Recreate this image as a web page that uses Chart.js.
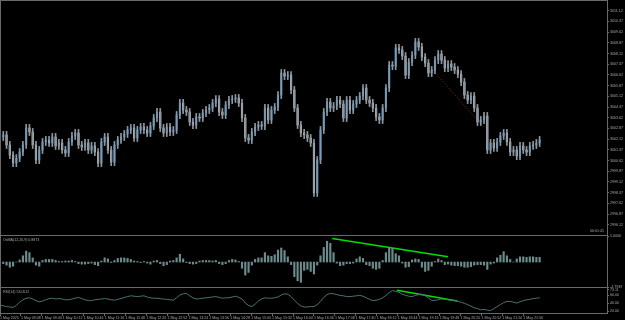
<!DOCTYPE html>
<html>
<head>
<meta charset="utf-8">
<script src="https://cdn.jsdelivr.net/npm/chart.js@4.4.0/dist/chart.umd.min.js"></script>
<style>
    html, body { margin: 0; padding: 0; background: #000; }
    #wrap { position: relative; width: 625px; height: 320px; }
    #wrap canvas { position: absolute; left: 0; top: 0; }
</style>
</head>
<body>
<div id="wrap">
    <canvas id="priceChart" width="625" height="320"></canvas>
    <canvas id="osmaChart" width="625" height="320"></canvas>
    <canvas id="rsiChart" width="625" height="320"></canvas>
</div>
<script>
// M5 bars, minutes counted from 1 May 08:36
const barStep = 5;
const closes = [
    3002.27, 3002.41, 3001.71, 3001.00, 3000.44, 3000.79, 3001.21, 3001.71, 3002.90, 3002.62,
    3001.71, 3000.65, 3001.36, 3001.92, 3002.06, 3001.85, 3002.27, 3001.64, 3001.85, 3001.36,
    3001.15, 3001.92, 3002.34, 3002.55, 3001.71, 3001.57, 3001.85, 3001.36, 3001.64, 3001.21,
    3000.44, 3001.92, 3002.27, 3001.36, 3000.51, 3001.71, 3002.06, 3002.27, 3002.48, 3002.76,
    3002.90, 3002.20, 3002.76, 3002.97, 3002.76, 3002.55, 3003.04, 3003.60, 3004.02, 3002.90,
    3002.55, 3002.97, 3002.62, 3002.76, 3003.81, 3004.65, 3004.16, 3004.02, 3003.32, 3003.11,
    3003.67, 3003.60, 3003.95, 3004.16, 3004.30, 3004.65, 3004.93, 3004.02, 3003.81, 3004.51,
    3004.86, 3004.93, 3005.00, 3004.65, 3003.60, 3002.20, 3002.06, 3002.62, 3002.97, 3003.11,
    3003.04, 3004.30, 3003.46, 3004.16, 3004.37, 3005.21, 3006.75, 3006.54, 3006.61, 3005.56,
    3004.30, 3003.11, 3002.55, 3002.41, 3002.20, 3001.85, 2998.35, 3000.65, 3002.76, 3004.02,
    3004.72, 3004.30, 3004.44, 3004.86, 3004.58, 3003.60, 3004.86, 3004.16, 3004.58, 3004.86,
    3005.14, 3005.70, 3004.86, 3004.65, 3004.30, 3003.67, 3003.46, 3004.30, 3005.70, 3007.31,
    3007.24, 3008.51, 3008.37, 3007.94, 3006.61, 3007.52, 3008.01, 3008.93, 3008.58, 3007.87,
    3007.45, 3006.75, 3006.96, 3007.66, 3008.08, 3007.66, 3007.10, 3007.38, 3007.17, 3006.96,
    3006.68, 3006.12, 3005.21, 3004.86, 3005.14, 3004.30, 3003.32, 3003.46, 3003.74, 3001.36,
    3001.85, 3001.50, 3001.92, 3002.34, 3002.55, 3001.92, 3001.21, 3001.36, 3000.93, 3001.64,
    3001.36, 3001.21, 3001.64, 3001.71, 3001.85, 3002.06
];
const osma = [
    -0.3, -0.3, -0.6, -1.0, -0.8, 0, 0.4, 1.2, 2.1, 1.8,
    0.8, -0.6, -0.8, 0.3, 0.5, 0.5, 0.5, 0.3, 0.1, 0.1,
    0.2, 0.2, 0.3, 0.1, -0.3, -0.4, -0.4, -0.3, -0.2, -0.5,
    -0.7, 0.2, 0.8, 0.6, -0.1, 0.3, 0.7, 0.8, 0.8, 0.7,
    0.5, 0.2, 0.1, -0.1, 0.1, -0.2, -0.4, 0.2, 0.3, -0.3,
    -0.7, -0.5, 0.2, 0.3, 0.8, 1.5, 0.6, -0.1, -0.3, -0.4,
    -0.3, 0.2, 0.3, 0.3, 0.3, 0.2, 0.3, -0.3, -0.5, -0.3,
    0.3, 0.5, 0.4, 0.1, -1.2, -2.5, -2.0, -0.6, 0.5, 0.8,
    0.8, 1.8, 1.2, 1.1, 1.4, 2.3, 2.7, 2.2, 1.0, -0.5,
    -2.8, -3.6, -3.9, -1.6, -1.4, -1.8, -2.3, -0.6, 1.2, 2.8,
    4.0, 3.6, 1.8, -0.2, -0.7, -0.6, -0.3, -0.3, -0.2, 0.6,
    1.0, 0.7, -0.5, -0.7, -1.2, -1.4, -1.2, 0.3, 1.8, 2.8,
    2.6, 1.6, 1.2, -0.2, -1.0, -0.9, 0.4, 0.6, 0.5, -1.0,
    -1.8, -1.6, -0.8, 0.1, 0.6, 0.3, -0.5, -0.4, -0.6, -0.7,
    -0.7, -0.8, -1.0, -1.0, -0.9, -0.6, -0.5, -0.5, -0.6, -1.4,
    -0.4, -0.2, 0.8, 1.3, 2.0, 1.2, 0.5, 0.0, 0.6, 1.0,
    1.0, 0.9, 1.0, 1.0, 0.9, 0.9
];
const rsi = [
    35, 33, 31, 30, 29, 34, 42, 48, 52, 53,
    50, 46, 43, 45, 48, 51, 52, 50, 51, 50,
    48, 48, 50, 52, 54, 51, 48, 46, 46, 48,
    49, 50, 51, 50, 48, 47, 49, 51, 54, 56,
    58, 57, 56, 57, 58, 55, 53, 52, 52, 51,
    50, 49, 48, 47, 53, 60, 63, 64, 58, 53,
    50, 51, 52, 53, 54, 55, 56, 54, 52, 53,
    53, 55, 57, 54, 50, 40, 34, 31, 37, 45,
    50, 53, 52, 52, 53, 55, 60, 63, 62, 56,
    47, 39, 33, 30, 30, 31, 31, 36, 44, 54,
    61, 64, 63, 61, 59, 58, 56, 56, 57, 58,
    59, 57, 53, 49, 46, 47, 49, 53, 59, 66,
    71, 69, 67, 62, 59, 57, 56, 59, 61, 62,
    58, 53, 46, 47, 48, 50, 49, 48, 47, 46,
    44, 42, 39, 36, 32, 28, 26, 23, 24, 22,
    21, 26, 31, 36, 41, 44, 44, 42, 40, 43,
    46, 48, 49, 51, 52, 53
];
const priceTicks = [
    3011.12, 3010.37, 3009.62, 3008.87, 3008.12, 3007.37, 3006.62, 3005.87, 3005.12, 3004.37,
    3003.62, 3002.87, 3002.12, 3001.37, 3000.62, 2999.87, 2999.12, 2998.37, 2997.62, 2996.87, 2996.12
];
const timeStep = 32;
const timeLabels = [
    '1 May 2025', '1 May 09:08', '1 May 09:40', '1 May 10:12', '1 May 10:44', '1 May 11:16',
    '1 May 11:48', '1 May 12:20', '1 May 12:52', '1 May 13:24', '1 May 13:56', '1 May 14:28',
    '1 May 15:00', '1 May 15:32', '1 May 16:04', '1 May 16:36', '1 May 17:08', '1 May 17:40',
    '1 May 18:12', '1 May 18:44', '1 May 19:16', '1 May 19:48', '1 May 20:20', '1 May 20:52',
    '1 May 21:24', '1 May 21:56'
];
const osmaTicks = [5.0006, -4.7939];
const rsiTicks = [73.11, 60, 40, 20];
// hand drawn trend lines [minute, value]
const priceTrend = [[662, 3006.96], [739, 3002.97]];
const osmaTrend = [[508, 4.5], [685, 1.0]];
const rsiTrend = [[607, 72], [699, 45]];

const xMax = 928;
const wickPad = 0.25;
const font = { family: 'Liberation Sans', size: 3.6 };
const textColor = '#a8a8a8';
const lineGray = '#6a6a6a';

const opens = closes.map((c, i) => i === 0 ? c : closes[i - 1]);
const bodies = closes.map((c, i) => ({ x: i * barStep, y: [opens[i], c] }));
const wicks = closes.map((c, i) => ({
    x: i * barStep,
    y: [Math.min(opens[i], c) - wickPad, Math.max(opens[i], c) + wickPad]
}));
const bodyColors = closes.map((c, i) => c >= opens[i] ? '#2a8fe0' : '#d0d6dc');

const panelFrame = {
    id: 'panelFrame',
    afterDraw(chart, args, opts) {
        const { ctx, chartArea: a } = chart;
        ctx.save();
        ctx.strokeStyle = lineGray;
        ctx.lineWidth = 1;
        ctx.strokeRect(a.left + 0.5, a.top - 0.5, a.right - a.left, a.bottom - a.top + 1);
        ctx.fillStyle = textColor;
        ctx.font = font.size + 'px "' + font.family + '"';
        if (opts.title) {
            ctx.textBaseline = 'top';
            ctx.fillText(opts.title, a.left + 3, a.top + 2);
        }
        if (opts.corner) {
            ctx.textAlign = 'right';
            ctx.textBaseline = 'bottom';
            ctx.fillText(opts.corner, a.right - 3, a.bottom - 2);
        }
        ctx.restore();
    }
};

function rightAxis(min, max, ticks, fmt) {
    return {
        position: 'right',
        min: min,
        max: max,
        grid: { display: true, drawOnChartArea: false, drawTicks: true, tickLength: 2, color: lineGray },
        border: { display: true, color: '#888' },
        ticks: { color: textColor, font: font, padding: 1, autoSkip: false, callback: fmt },
        afterBuildTicks: s => { s.ticks = ticks.map(v => ({ value: v })); },
        afterFit: s => { s.width = 18; s.paddingTop = 0; s.paddingBottom = 0; }
    };
}

const hiddenX = { type: 'linear', min: 0, max: xMax, offset: false, display: false };

function trendSet(points, color, width, dash) {
    return {
        type: 'line',
        data: points.map(p => ({ x: p[0], y: p[1] })),
        borderColor: color,
        borderWidth: width,
        borderDash: dash,
        pointRadius: 0
    };
}

const common = {
    responsive: false,
    animation: false,
    events: [],
    plugins: { legend: { display: false }, tooltip: { enabled: false } }
};

new Chart(document.getElementById('priceChart'), {
    type: 'bar',
    data: {
        datasets: [
            { data: wicks, backgroundColor: '#8e969e', barThickness: 1, grouped: false },
            { data: bodies, backgroundColor: bodyColors, barThickness: 1.5, minBarLength: 1, grouped: false },
            trendSet(priceTrend, '#a02020', 1, [1, 2])
        ]
    },
    options: Object.assign({}, common, {
        layout: { padding: { top: 1, bottom: 85, left: 0, right: 0 } },
        scales: {
            x: hiddenX,
            y: rightAxis(2995.40, 3011.80, priceTicks, v => v.toFixed(2))
        },
        plugins: Object.assign({}, common.plugins, { panelFrame: { corner: '00:01:41' } })
    }),
    plugins: [panelFrame]
});

new Chart(document.getElementById('osmaChart'), {
    type: 'bar',
    data: {
        datasets: [
            { data: osma.map((v, i) => ({ x: i * barStep, y: v })), backgroundColor: '#6b8b8c', barThickness: 1.5, grouped: false },
            trendSet(osmaTrend, '#00e000', 1.5, [])
        ]
    },
    options: Object.assign({}, common, {
        layout: { padding: { top: 236, bottom: 33, left: 0, right: 0 } },
        scales: {
            x: hiddenX,
            y: rightAxis(-4.7939, 5.0006, osmaTicks, v => v.toFixed(4))
        },
        plugins: Object.assign({}, common.plugins, { panelFrame: { title: 'OsMA(12,26,9) 0.8873' } })
    }),
    plugins: [panelFrame]
});

new Chart(document.getElementById('rsiChart'), {
    type: 'line',
    data: {
        datasets: [
            { data: rsi.map((v, i) => ({ x: i * barStep, y: v })), borderColor: '#4a7272', borderWidth: 1, pointRadius: 0 },
            trendSet(rsiTrend, '#00e000', 1.5, [])
        ]
    },
    options: Object.assign({}, common, {
        layout: { padding: { top: 288, bottom: 0, left: 0, right: 0 } },
        scales: {
            x: {
                type: 'linear',
                min: 0,
                max: xMax,
                offset: false,
                grid: { display: true, drawOnChartArea: false, drawTicks: true, tickLength: 3, color: lineGray },
                border: { display: true, color: lineGray },
                ticks: {
                    color: textColor, font: font, padding: 0, align: 'start', maxRotation: 0, autoSkip: false,
                    callback: (v, i) => timeLabels[i]
                },
                afterBuildTicks: s => { s.ticks = timeLabels.map((t, i) => ({ value: i * timeStep })); },
                afterFit: s => { s.height = 7; s.paddingLeft = 0; s.paddingRight = 0; }
            },
            y: rightAxis(15, 77.5, rsiTicks, v => v.toFixed(2))
        },
        plugins: Object.assign({}, common.plugins, { panelFrame: { title: 'RSI(14) 53.0512' } })
    }),
    plugins: [panelFrame]
});
</script>
</body>
</html>
